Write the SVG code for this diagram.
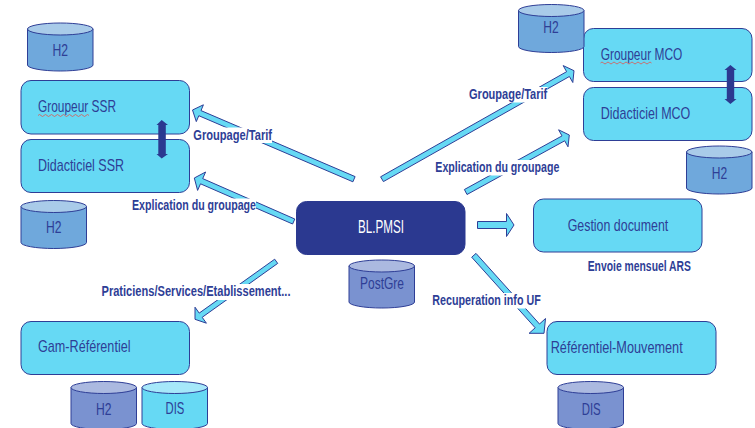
<svg xmlns="http://www.w3.org/2000/svg" width="755" height="428" viewBox="0 0 755 428">
<style>
text{font-family:"Liberation Sans Narrow","Liberation Sans",Arial,sans-serif;fill:#2e3e96}
.t{font-size:17px}
.l{font-size:14px;font-weight:700}
.w{fill:#fff;font-size:17.5px}
.box{fill:#66d9f4;stroke:#2e3e96;stroke-width:1}
.main{fill:#2b3990;stroke:#2b3990;stroke-width:1}
.arrow{fill:#66d9f4;stroke:#2e3e96;stroke-width:1;stroke-linejoin:miter}
.dbl{fill:#2b3990;stroke:none}
.bg{fill:#fff}
.sq{fill:none;stroke:#e0564f;stroke-width:.8}
.cyl{stroke:#2e3e96;stroke-width:1}
.c1 .b{fill:#6fa8dc}.c1 .o{fill:#a9cbe9}
.c2 .b{fill:#7a92d0}.c2 .o{fill:#abb9e0}
.c3 .b{fill:#66d9f4}.c3 .o{fill:#a6e8fa}
</style>
<defs>
<path id="cb" d="M0 6V42A32.75 6 0 0 0 65.5 42V6Z"/>
<ellipse id="ct" cx="32.75" cy="6" rx="32.75" ry="6"/>
</defs>
<g id="connectors">
<polygon class="arrow" points="192.5,110 203.4,104.8 201,110.6 355.1,176.6 352.9,181.8 198.8,115.7 196.3,121.6"/>
<polygon class="arrow" points="194.3,178 205.6,172 202.7,178.6 294.8,219 292.6,224 200.5,183.8 197.6,190.4"/>
<polygon class="arrow" points="195,319.3 195,307.2 199.2,313.1 274.7,259.2 277.7,263.4 202.2,317.3 206.4,323.2"/>
<polygon class="arrow" points="574,70.7 563.2,65.6 566.6,71.7 380.6,176.8 383.4,181.6 569.4,76.5 572.8,82.5"/>
<polygon class="arrow" points="569.3,135 558.6,129.8 562,135.9 464.4,189.5 467,194.5 564.7,140.8 568,146.8"/>
<polygon class="arrow" points="477.5,221.5 506.5,221.5 506.5,213.5 514,225 506.5,236.5 506.5,228.5 477.5,228.5"/>
<polygon class="arrow" points="544,333.3 545.5,318.5 539.5,324 476,253.4 471.7,257.2 535.2,327.8 529.1,333.3"/>
</g>
<g id="node-groupeur-ssr">
<rect class="box" x="21" y="80.5" width="168.5" height="53.5" rx="10"/>
<path class="sq" d="M38 115.5q1.5-2 3 0t3 0 3 0 3 0 3 0 3 0 3 0 3 0 3 0 3 0 3 0 3 0 3 0 3 0 3 0 3 0 3 0"/>
<text class="t" x="38" y="112" textLength="78" lengthAdjust="spacingAndGlyphs">Groupeur SSR</text>
</g>
<g id="node-didacticiel-ssr">
<rect class="box" x="21" y="139.5" width="168.5" height="53" rx="10"/>
<text class="t" x="38" y="171" textLength="86" lengthAdjust="spacingAndGlyphs">Didacticiel SSR</text>
</g>
<g id="node-gam-referentiel">
<rect class="box" x="21" y="321.5" width="168.5" height="53" rx="10"/>
<text class="t" x="38" y="352" textLength="92.5" lengthAdjust="spacingAndGlyphs">Gam-Référentiel</text>
</g>
<g id="node-blpmsi">
<rect class="main" x="296.5" y="201.5" width="168.5" height="53" rx="10"/>
<text class="w" x="358" y="232.7" textLength="46" lengthAdjust="spacingAndGlyphs">BL.PMSI</text>
</g>
<g id="node-gestion-document">
<rect class="box" x="533.5" y="199" width="168.5" height="53" rx="10"/>
<text class="t" x="567.7" y="230.7" textLength="100.6" lengthAdjust="spacingAndGlyphs">Gestion document</text>
</g>
<g id="node-referentiel-mouvement">
<rect class="box" x="547" y="321.5" width="169" height="53" rx="10"/>
<text class="t" x="550.7" y="352.7" textLength="132" lengthAdjust="spacingAndGlyphs">Référentiel-Mouvement</text>
</g>
<g id="node-groupeur-mco">
<rect class="box" x="583.5" y="28.5" width="168.5" height="53" rx="10"/>
<path class="sq" d="M600.5 63q1.5-2 3 0t3 0 3 0 3 0 3 0 3 0 3 0 3 0 3 0 3 0 3 0 3 0 3 0 3 0 3 0 3 0 3 0"/>
<text class="t" x="600.7" y="59.5" textLength="81.6" lengthAdjust="spacingAndGlyphs">Groupeur MCO</text>
</g>
<g id="node-didacticiel-mco">
<rect class="box" x="583.5" y="87.5" width="168.5" height="53" rx="10"/>
<text class="t" x="600.7" y="119" textLength="89.6" lengthAdjust="spacingAndGlyphs">Didacticiel MCO</text>
</g>
<g id="link-ssr">
<polygon class="dbl" points="161.7,120 168,125 165.8,125 165.8,154 168,154 161.7,158.5 156.5,154 158.3,154 158.3,125 156.5,125"/>
</g>
<g id="link-mco">
<polygon class="dbl" points="730.4,65 736.5,70 734.2,70 734.2,99 736.5,99 730.4,104 724.5,99 726.8,99 726.8,70 724.5,70"/>
</g>
<g id="db-h2-ssr-top" class="cyl c1"><use class="b" href="#cb" x="27.5" y="23"/><use class="o" href="#ct" x="27.5" y="23"/><text class="t" x="52.5" y="55.5" textLength="15.5" lengthAdjust="spacingAndGlyphs" stroke="none">H2</text></g>
<g id="db-h2-ssr-bottom" class="cyl c1"><use class="b" href="#cb" x="21" y="200.5"/><use class="o" href="#ct" x="21" y="200.5"/><text class="t" x="46" y="232.7" textLength="15.5" lengthAdjust="spacingAndGlyphs" stroke="none">H2</text></g>
<g id="db-h2-gam" class="cyl c2"><use class="b" href="#cb" x="71" y="381.5"/><use class="o" href="#ct" x="71" y="381.5"/><text class="t" x="96" y="415" textLength="15.5" lengthAdjust="spacingAndGlyphs" stroke="none">H2</text></g>
<g id="db-dis-gam" class="cyl c3"><use class="b" href="#cb" x="142" y="381.5"/><use class="o" href="#ct" x="142" y="381.5"/><text class="t" x="165.5" y="414" textLength="18.8" lengthAdjust="spacingAndGlyphs" stroke="none">DIS</text></g>
<g id="db-postgre" class="cyl c2"><use class="b" href="#cb" x="349" y="260"/><use class="o" href="#ct" x="349" y="260"/><text class="t" x="360" y="289" textLength="44" lengthAdjust="spacingAndGlyphs" stroke="none">PostGre</text></g>
<g id="db-dis-mouvement" class="cyl c2"><use class="b" href="#cb" x="558" y="381.5"/><use class="o" href="#ct" x="558" y="381.5"/><text class="t" x="581.7" y="414.7" textLength="19" lengthAdjust="spacingAndGlyphs" stroke="none">DIS</text></g>
<g id="db-h2-mco-top" class="cyl c1"><use class="b" href="#cb" x="518.5" y="4.5"/><use class="o" href="#ct" x="518.5" y="4.5"/><text class="t" x="543.3" y="32.7" textLength="15.4" lengthAdjust="spacingAndGlyphs" stroke="none">H2</text></g>
<g id="db-h2-mco-bottom" class="cyl c1"><use class="b" href="#cb" x="686.5" y="146"/><use class="o" href="#ct" x="686.5" y="146"/><text class="t" x="711.7" y="179" textLength="15.4" lengthAdjust="spacingAndGlyphs" stroke="none">H2</text></g>
<g id="labels">
<rect class="bg" x="193" y="127.5" width="79" height="15.5"/>
<text class="l" x="193.3" y="139.5" textLength="78.7" lengthAdjust="spacingAndGlyphs">Groupage/Tarif</text>
<rect class="bg" x="132" y="198.5" width="124" height="15.5"/>
<text class="l" x="132" y="210" textLength="124" lengthAdjust="spacingAndGlyphs">Explication du groupage</text>
<rect class="bg" x="101" y="284" width="190" height="16"/>
<text class="l" x="101.5" y="296" textLength="189" lengthAdjust="spacingAndGlyphs">Praticiens/Services/Etablissement...</text>
<rect class="bg" x="469" y="87" width="78.5" height="15.5"/>
<text class="l" x="469" y="99" textLength="78.3" lengthAdjust="spacingAndGlyphs">Groupage/Tarif</text>
<rect class="bg" x="435" y="160" width="124.5" height="15.5"/>
<text class="l" x="435.3" y="171.7" textLength="124" lengthAdjust="spacingAndGlyphs">Explication du groupage</text>
<text class="l" x="587.7" y="270.7" textLength="103.3" lengthAdjust="spacingAndGlyphs">Envoie mensuel ARS</text>
<rect class="bg" x="432" y="293" width="109" height="15.5"/>
<text class="l" x="432.3" y="305" textLength="108.4" lengthAdjust="spacingAndGlyphs">Recuperation info UF</text>
</g>
</svg>
